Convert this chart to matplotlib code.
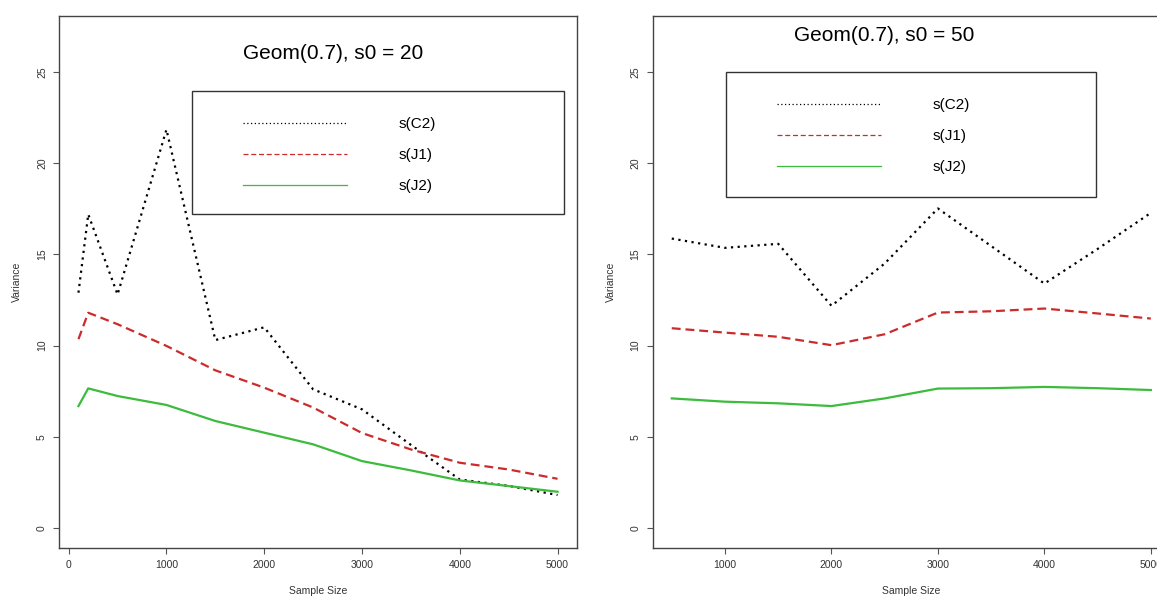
import matplotlib
matplotlib.use("Agg")
import matplotlib.pyplot as plt
from matplotlib.patches import Rectangle
from matplotlib.lines import Line2D

plt.rcParams['font.family'] = ['Liberation Sans', 'DejaVu Sans']

# data
n_left = [100, 200, 500, 1000, 1500, 2000, 2500, 3000, 3500, 4000, 4500, 5000]
c2_left = [12.9, 17.2, 12.8, 21.85, 10.3, 11.0, 7.6, 6.5, 4.55, 2.65, 2.3, 1.8]
j1_left = [10.35, 11.8, 11.17, 9.98, 8.64, 7.69, 6.6, 5.2, 4.3, 3.57, 3.2, 2.69]
j2_left = [6.68, 7.65, 7.23, 6.74, 5.86, 5.22, 4.58, 3.66, 3.15, 2.6, 2.29, 1.98]

n_right = [500, 1000, 1500, 2000, 2500, 3000, 3500, 4000, 4500, 5000]
c2_right = [15.87, 15.36, 15.58, 12.18, 14.5, 17.52, 15.46, 13.4, 15.3, 17.28]
j1_right = [10.95, 10.71, 10.48, 10.02, 10.62, 11.81, 11.88, 12.03, 11.76, 11.48]
j2_right = [7.1, 6.92, 6.83, 6.68, 7.1, 7.64, 7.66, 7.73, 7.66, 7.56]

titles = ["Geom(0.7), s0 = 20", "Geom(0.7), s0 = 50"]
labels = ["s(C2)", "s(J1)", "s(J2)"]
yticks = [0, 5, 10, 15, 20, 25]

W, H = 1157, 597
RED = "#cc2b2b"
GREEN = "#3cbb3c"
styles = [("black", (0, (1, 2))), (RED, (0, (4, 2.2))), (GREEN, "-")]


def fx(x):
    return x / W


def fy(y):
    return 1 - y / H


fig = plt.figure(figsize=(W / 100, H / 100), dpi=100)
ax1 = fig.add_axes([fx(59.3), fy(547.5), 517.4 / W, 531.5 / H])
ax2 = fig.add_axes([fx(652.6), fy(547.5), 517.4 / W, 531.5 / H])


def setup(ax, xs, ticks, title, tpos, legbox, legxy):
    ax.set_xlim(xs[0] - 0.04 * (xs[-1] - xs[0]), xs[-1] + 0.04 * (xs[-1] - xs[0]))
    ax.set_ylim(-1.08, 28.08)
    ax.set_xticks(ticks)
    ax.set_yticks(yticks)
    ax.set_yticklabels([str(t) for t in yticks], rotation=90, va="center")
    ax.tick_params(direction="out", length=4.3, width=0.8, color="#555555",
                   labelsize=7.5, labelcolor="#333333")
    ax.tick_params(axis="x", pad=5)
    ax.tick_params(axis="y", pad=4.5)
    for s in ax.spines.values():
        s.set_color("#444444")
        s.set_linewidth(1.0)
    ax.set_xlabel("Sample Size", fontsize=7.5, color="#333333")
    ax.set_ylabel("Variance", fontsize=7.5, color="#333333")
    ax.xaxis.set_label_coords(0.5, (547.5 - 591.5) / 531.5)
    ax.xaxis.label.set_va("center")
    ax.yaxis.set_label_coords(-42 / 517.4, 0.5)
    ax.yaxis.label.set_va("center")
    ax.text(tpos[0], tpos[1], title, transform=ax.transAxes, ha="center",
            va="center", fontsize=15)
    # legend frame
    x0, y0, x1, y1 = legbox
    fig.patches.append(Rectangle((fx(x0), fy(y1)), (x1 - x0) / W, (y1 - y0) / H,
                                 transform=fig.transFigure, fill=False,
                                 edgecolor="#333333", linewidth=1.0, zorder=5))
    handles = [Line2D([], [], color=c, linestyle=ls, linewidth=0.9) for c, ls in styles]
    ax.legend(handles, labels, loc="upper left", frameon=False,
              bbox_to_anchor=(fx(legxy[0]), fy(legxy[1])),
              bbox_transform=fig.transFigure, borderpad=0, borderaxespad=0,
              handlelength=6.8, handletextpad=3.4, labelspacing=1.11,
              fontsize=11)


for ax, xs, c2, j1, j2 in [(ax1, n_left, c2_left, j1_left, j2_left),
                           (ax2, n_right, c2_right, j1_right, j2_right)]:
    ax.plot(xs, c2, color="black", linestyle=(0, (1, 2)), linewidth=1.6)
    ax.plot(xs, j1, color=RED, linestyle=(0, (4, 2.2)), linewidth=1.6)
    ax.plot(xs, j2, color=GREEN, linestyle="-", linewidth=1.6)

setup(ax1, n_left, [0, 1000, 2000, 3000, 4000, 5000], titles[0], (0.529, 0.930),
      (192, 90.7, 564, 214.3), (243, 117.2))
setup(ax2, n_right, [1000, 2000, 3000, 4000, 5000], titles[1], (0.448, 0.964),
      (725.5, 72, 1095.6, 196.7), (777, 98.5))

fig.savefig("out.png", dpi=100)
